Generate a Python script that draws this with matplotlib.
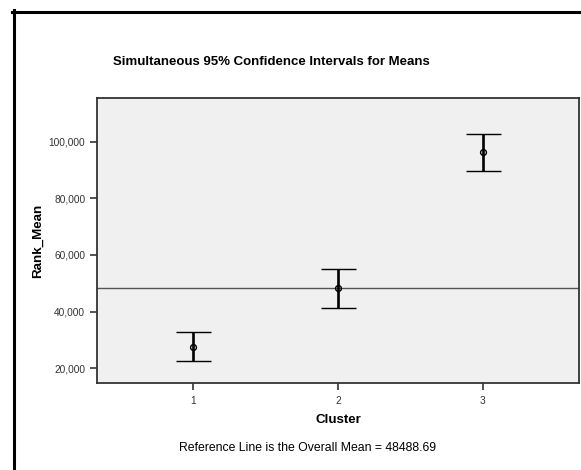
import matplotlib
matplotlib.use("Agg")
import matplotlib.pyplot as plt
from matplotlib.lines import Line2D
import numpy as np

clusters = [1, 2, 3]
means = [27600, 48250, 96250]
lower = [22600, 41300, 89750]
upper = [32700, 55050, 102800]
overall_mean = 48488.69
y_ticks = [20000, 40000, 60000, 80000, 100000]

W, H = 581, 470
DPI = 100
plt.rcParams["font.family"] = ["Liberation Sans", "DejaVu Sans"]

fig = plt.figure(figsize=(W / DPI, H / DPI), dpi=DPI)
fig.patch.set_facecolor("white")

# plot area in pixels: left 97, right 579, top 98, bottom 383
ax = fig.add_axes([97 / W, (H - 383) / H, (579 - 97) / W, (383 - 98) / H])
ax.set_facecolor("#f0f0f0")

means = np.array(means)
yerr = [means - np.array(lower), np.array(upper) - means]
ax.axhline(overall_mean, color="#555555", lw=1.0, zorder=1)
ax.errorbar(clusters, means, yerr=yerr, fmt="o", color="black", ms=4.2,
            mfc="none", mec="black", mew=1.0, elinewidth=1.9,
            capsize=12.6, capthick=1.9, zorder=3)

ax.set_xlim(1 / 3, 3 + 2 / 3)
ax.set_ylim(14800, 115400)
ax.set_xticks(clusters)
ax.set_xticklabels([str(c) for c in clusters])
ax.set_yticks(y_ticks)
ax.set_yticklabels([f"{v:,}" for v in y_ticks])
ax.tick_params(axis="both", labelsize=7.3, colors="#333333", length=5, width=1.2,
               direction="out")
ax.tick_params(axis="x", pad=4)
for s in ax.spines.values():
    s.set_color("#333333")
    s.set_linewidth(1.3)

ax.set_xlabel("Cluster", fontsize=9.6, fontweight="bold", labelpad=6)
ax.set_ylabel("Rank_Mean", fontsize=9.6, fontweight="bold", labelpad=3)

fig.text(271 / W, 1 - 62 / H, "Simultaneous 95% Confidence Intervals for Means",
         ha="center", va="center", fontsize=9.5, fontweight="bold")
fig.text(308 / W, 1 - 448 / H, "Reference Line is the Overall Mean = 48488.69",
         ha="center", va="center", fontsize=8.8)

# frame lines on left and top
fig.add_artist(Line2D([13.5 / W, 13.5 / W], [0, 1 - 10 / H], color="black",
                      lw=2.2, transform=fig.transFigure))
fig.add_artist(Line2D([12 / W, 1], [1 - 11.5 / H, 1 - 11.5 / H], color="black",
                      lw=2.2, transform=fig.transFigure))

fig.savefig("out.png", dpi=DPI)
